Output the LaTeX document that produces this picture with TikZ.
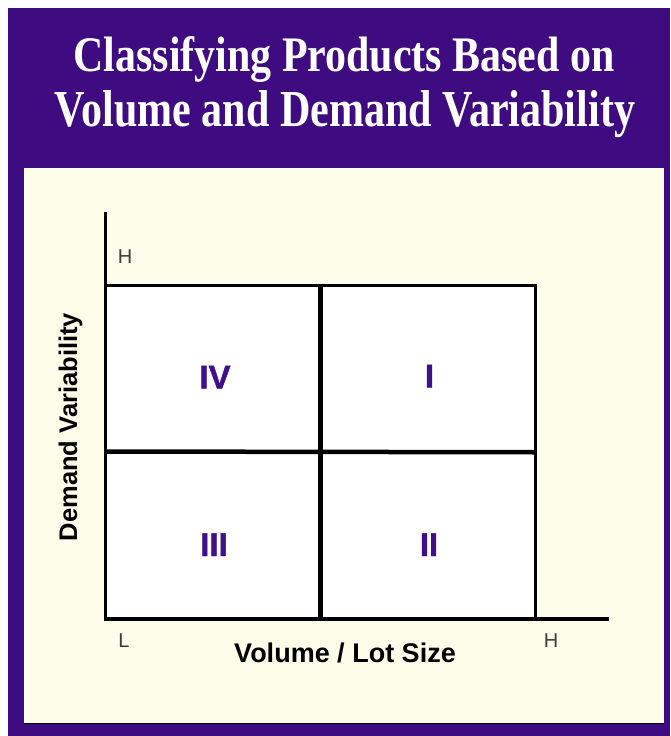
\documentclass[tikz,border=0pt]{standalone}
\usepackage{fontspec}
\setmainfont{Liberation Serif}
\setsansfont{Liberation Sans}
\newfontfamily\heavysans[FakeBold=1.2]{Liberation Sans Bold}
\usepackage{graphicx}

\definecolor{framepurple}{RGB}{62,12,128}
\definecolor{numpurple}{RGB}{64,16,140}
\definecolor{paper}{RGB}{253,253,234}
\definecolor{shade}{RGB}{176,168,196}
\definecolor{ticktext}{RGB}{60,60,60}

\tikzset{
  quad/.style={draw=black, fill=white, line width=3.4pt, minimum width=215pt,
    minimum height=166pt, inner sep=0pt, outer sep=0pt},
  numeral/.style={text=numpurple, inner sep=0pt, anchor=base,
    font=\heavysans\fontsize{33}{33}\selectfont},
  axisline/.style={draw=black, line width=3.2pt},
  axislabel/.style={text=black, inner sep=0pt, anchor=base},
  endmark/.style={text=ticktext, inner sep=0pt, anchor=base,
    font=\sffamily\fontsize{20}{20}\selectfont},
  titleline/.style={text=white, inner sep=0pt, anchor=base, font=\bfseries}
}

\begin{document}
\begin{tikzpicture}[x=1pt,y=-1pt]
\useasboundingbox (0,0) rectangle (670,736);
\fill[white] (0,0) rectangle (670,736);

% frame and inner panel
\fill[framepurple] (8,8) rectangle (670,736);
\fill[paper] (24,168) rectangle (664,724);
\draw[shade, line width=1pt] (24,723.5) -- (664,723.5);

% title
\node[titleline] (title1) at (344,71.7)
  {\resizebox{541pt}{35pt}{Classifying Products Based on}};
\node[titleline] (title2) at (345,126.7)
  {\resizebox{580pt}{36pt}{Volume and Demand Variability}};

% quadrants
\node[quad] (q4) at (213,368.5) {};
\node[quad] (q1) at (428,368.5) {};
\node[quad] (q3) at (213,535.25) {};
\node[quad] (q2) at (428,535.25) {};
\draw[line width=4.5pt] (q4.north east) -- (q2.south west);
\draw[line width=4.5pt] (q4.south west) -- (q2.north east);

% axes
\coordinate (ytop) at (105.5,212);
\coordinate (origin) at (105.5,619);
\coordinate (xend) at (609,619);
\draw[axisline] (ytop) -- (origin) -- (xend);

% quadrant numerals
\node[numeral] (n4) at (215,388.5) {IV};
\node[numeral] (n1) at (429.5,387.5) {I};
\node[numeral] (n3) at (214,556) {III};
\node[numeral] (n2) at (429,556) {II};

% axis ends
\node[endmark] (yhigh) at (125,263) {H};
\node[endmark] (xlow) at (124,647) {L};
\node[endmark] (xhigh) at (551,647) {H};

% axis titles
\node[axislabel, font=\sffamily\bfseries\fontsize{27}{27}\selectfont] (xlabel)
  at (345,662) {Volume / Lot Size};
\node[axislabel, rotate=90, font=\sffamily\bfseries\fontsize{25.5}{25.5}\selectfont] (ylabel)
  at (77,427) {Demand Variability};
\end{tikzpicture}
\end{document}
